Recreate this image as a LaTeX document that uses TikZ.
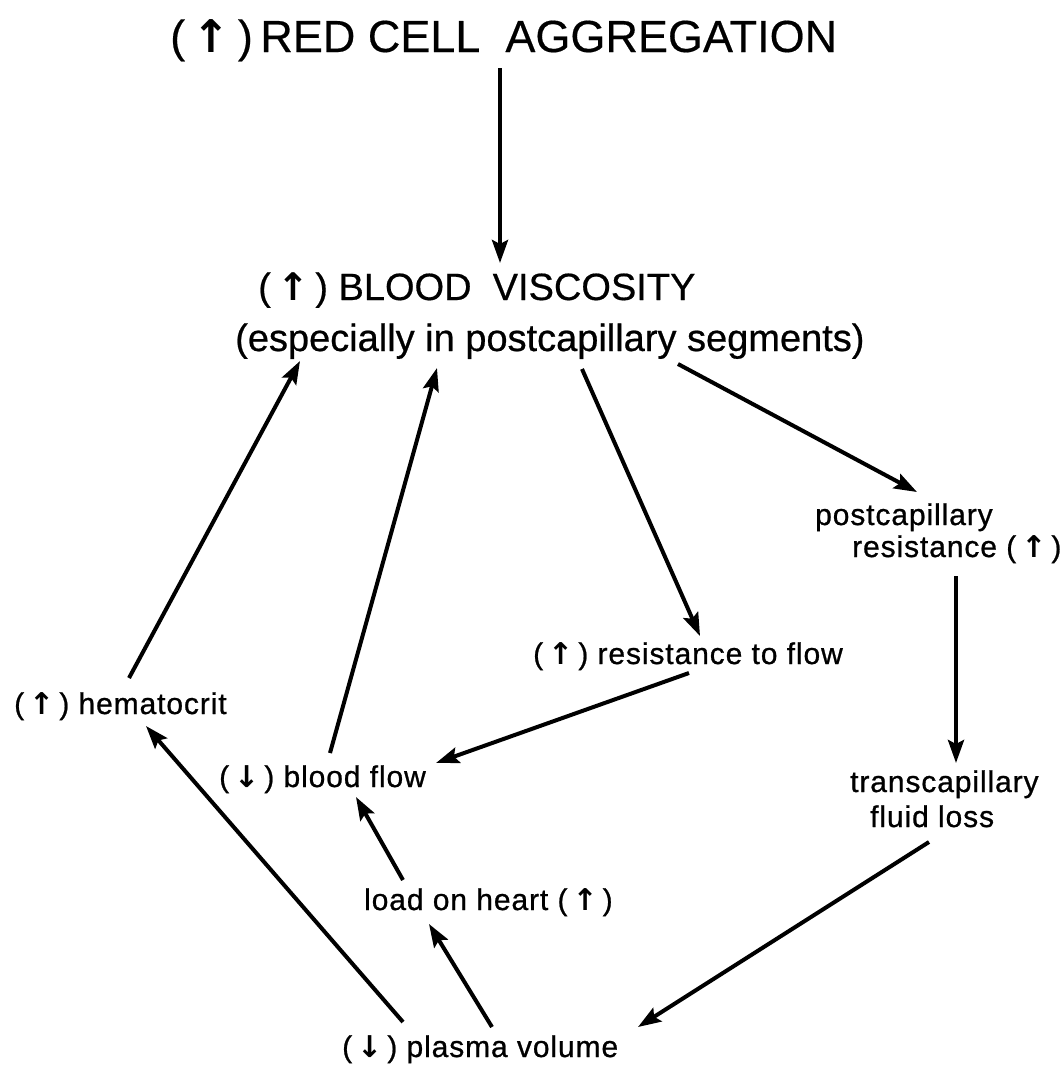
\documentclass[tikz,border=0pt]{standalone}
\usepackage{fontspec}
\setmainfont{Liberation Sans}
\newfontfamily\arrowfont{DejaVu Sans}
\newcommand\incr{{\arrowfont\bfseries ↑}}
\newcommand\decr{{\arrowfont\bfseries ↓}}
\usetikzlibrary{arrows.meta}

\begin{document}
\begin{tikzpicture}[
    x=1pt, y=-1pt,
    >={Stealth[length=23pt,width=16pt,inset=4pt]},
    lbl/.style={
        anchor=base west,
        inner sep=0pt,
        font=\fontsize{30}{34}\selectfont\addfontfeature{FakeBold=0.8,LetterSpace=3}
    },
    head/.style={
        lbl,
        font=\fontsize{45}{50}\selectfont\addfontfeature{FakeBold=0.4}
    },
    big/.style={
        lbl,
        font=\fontsize{38}{42}\selectfont\addfontfeature{FakeBold=0.5}
    },
    note/.style={
        lbl,
        font=\fontsize{38}{42}\selectfont\addfontfeature{FakeBold=0.6}
    },
    arr/.style={
        ->,
        line width=4pt
    }
]
\useasboundingbox (0,0) rectangle (1062,1069);

% Nodes - top
\node[head] (aggr) at (170,52) {(\,\incr\,)\,RED CELL\ \ AGGREGATION};
\node[big] (visc) at (258,300) {(\,\incr\,) BLOOD\ \ VISCOSITY};
\node[note] (visc2) at (235,351) {(especially in postcapillary segments)};

% Nodes - right branch
\node[lbl] (postcap) at (815,525) {postcapillary};
\node[lbl] (postcap2) at (852,557) {resistance (\,\incr\,)};
\node[lbl] (trans) at (850,792) {transcapillary};
\node[lbl] (trans2) at (870,827) {fluid loss};

% Nodes - middle and left
\node[lbl] (resflow) at (533,664) {(\,\incr\,) resistance to flow};
\node[lbl] (hemat) at (14,714) {(\,\incr\,) hematocrit};
\node[lbl] (bflow) at (219,787) {(\,\decr\,) blood\ flow};
\node[lbl] (load) at (364,910) {load on heart (\,\incr\,)};
\node[lbl] (plasma) at (342,1057) {(\,\decr\,) plasma\ volume};

% Arrows
\draw[arr] ([shift={(330,16)}]aggr.base west) -- ([shift={(242,-37)}]visc.base west);
\draw[arr] ([shift={(115,-36)}]hemat.base west) -- ([shift={(65,10)}]visc2.base west);
\draw[arr] ([shift={(111,-34)}]bflow.base west) -- ([shift={(202,17)}]visc2.base west);
\draw[arr] ([shift={(347,18)}]visc2.base west) -- ([shift={(167,-28)}]resflow.base west);
\draw[arr] ([shift={(443,13)}]visc2.base west) -- ([shift={(102,-33)}]postcap.base west);
\draw[arr] ([shift={(104,19)}]postcap2.base west) -- ([shift={(106,-29)}]trans.base west);
\draw[arr] ([shift={(59,15)}]trans2.base west) -- ([shift={(296,-30)}]plasma.base west);
\draw[arr] ([shift={(156,9)}]resflow.base west) -- ([shift={(217,-24)}]bflow.base west);
\draw[arr] ([shift={(61,-35)}]plasma.base west) -- ([shift={(132,12)}]hemat.base west);
\draw[arr] ([shift={(39,-30)}]load.base west) -- ([shift={(137,10)}]bflow.base west);
\draw[arr] ([shift={(150,-30)}]plasma.base west) -- ([shift={(65,14)}]load.base west);

\end{tikzpicture}
\end{document}
